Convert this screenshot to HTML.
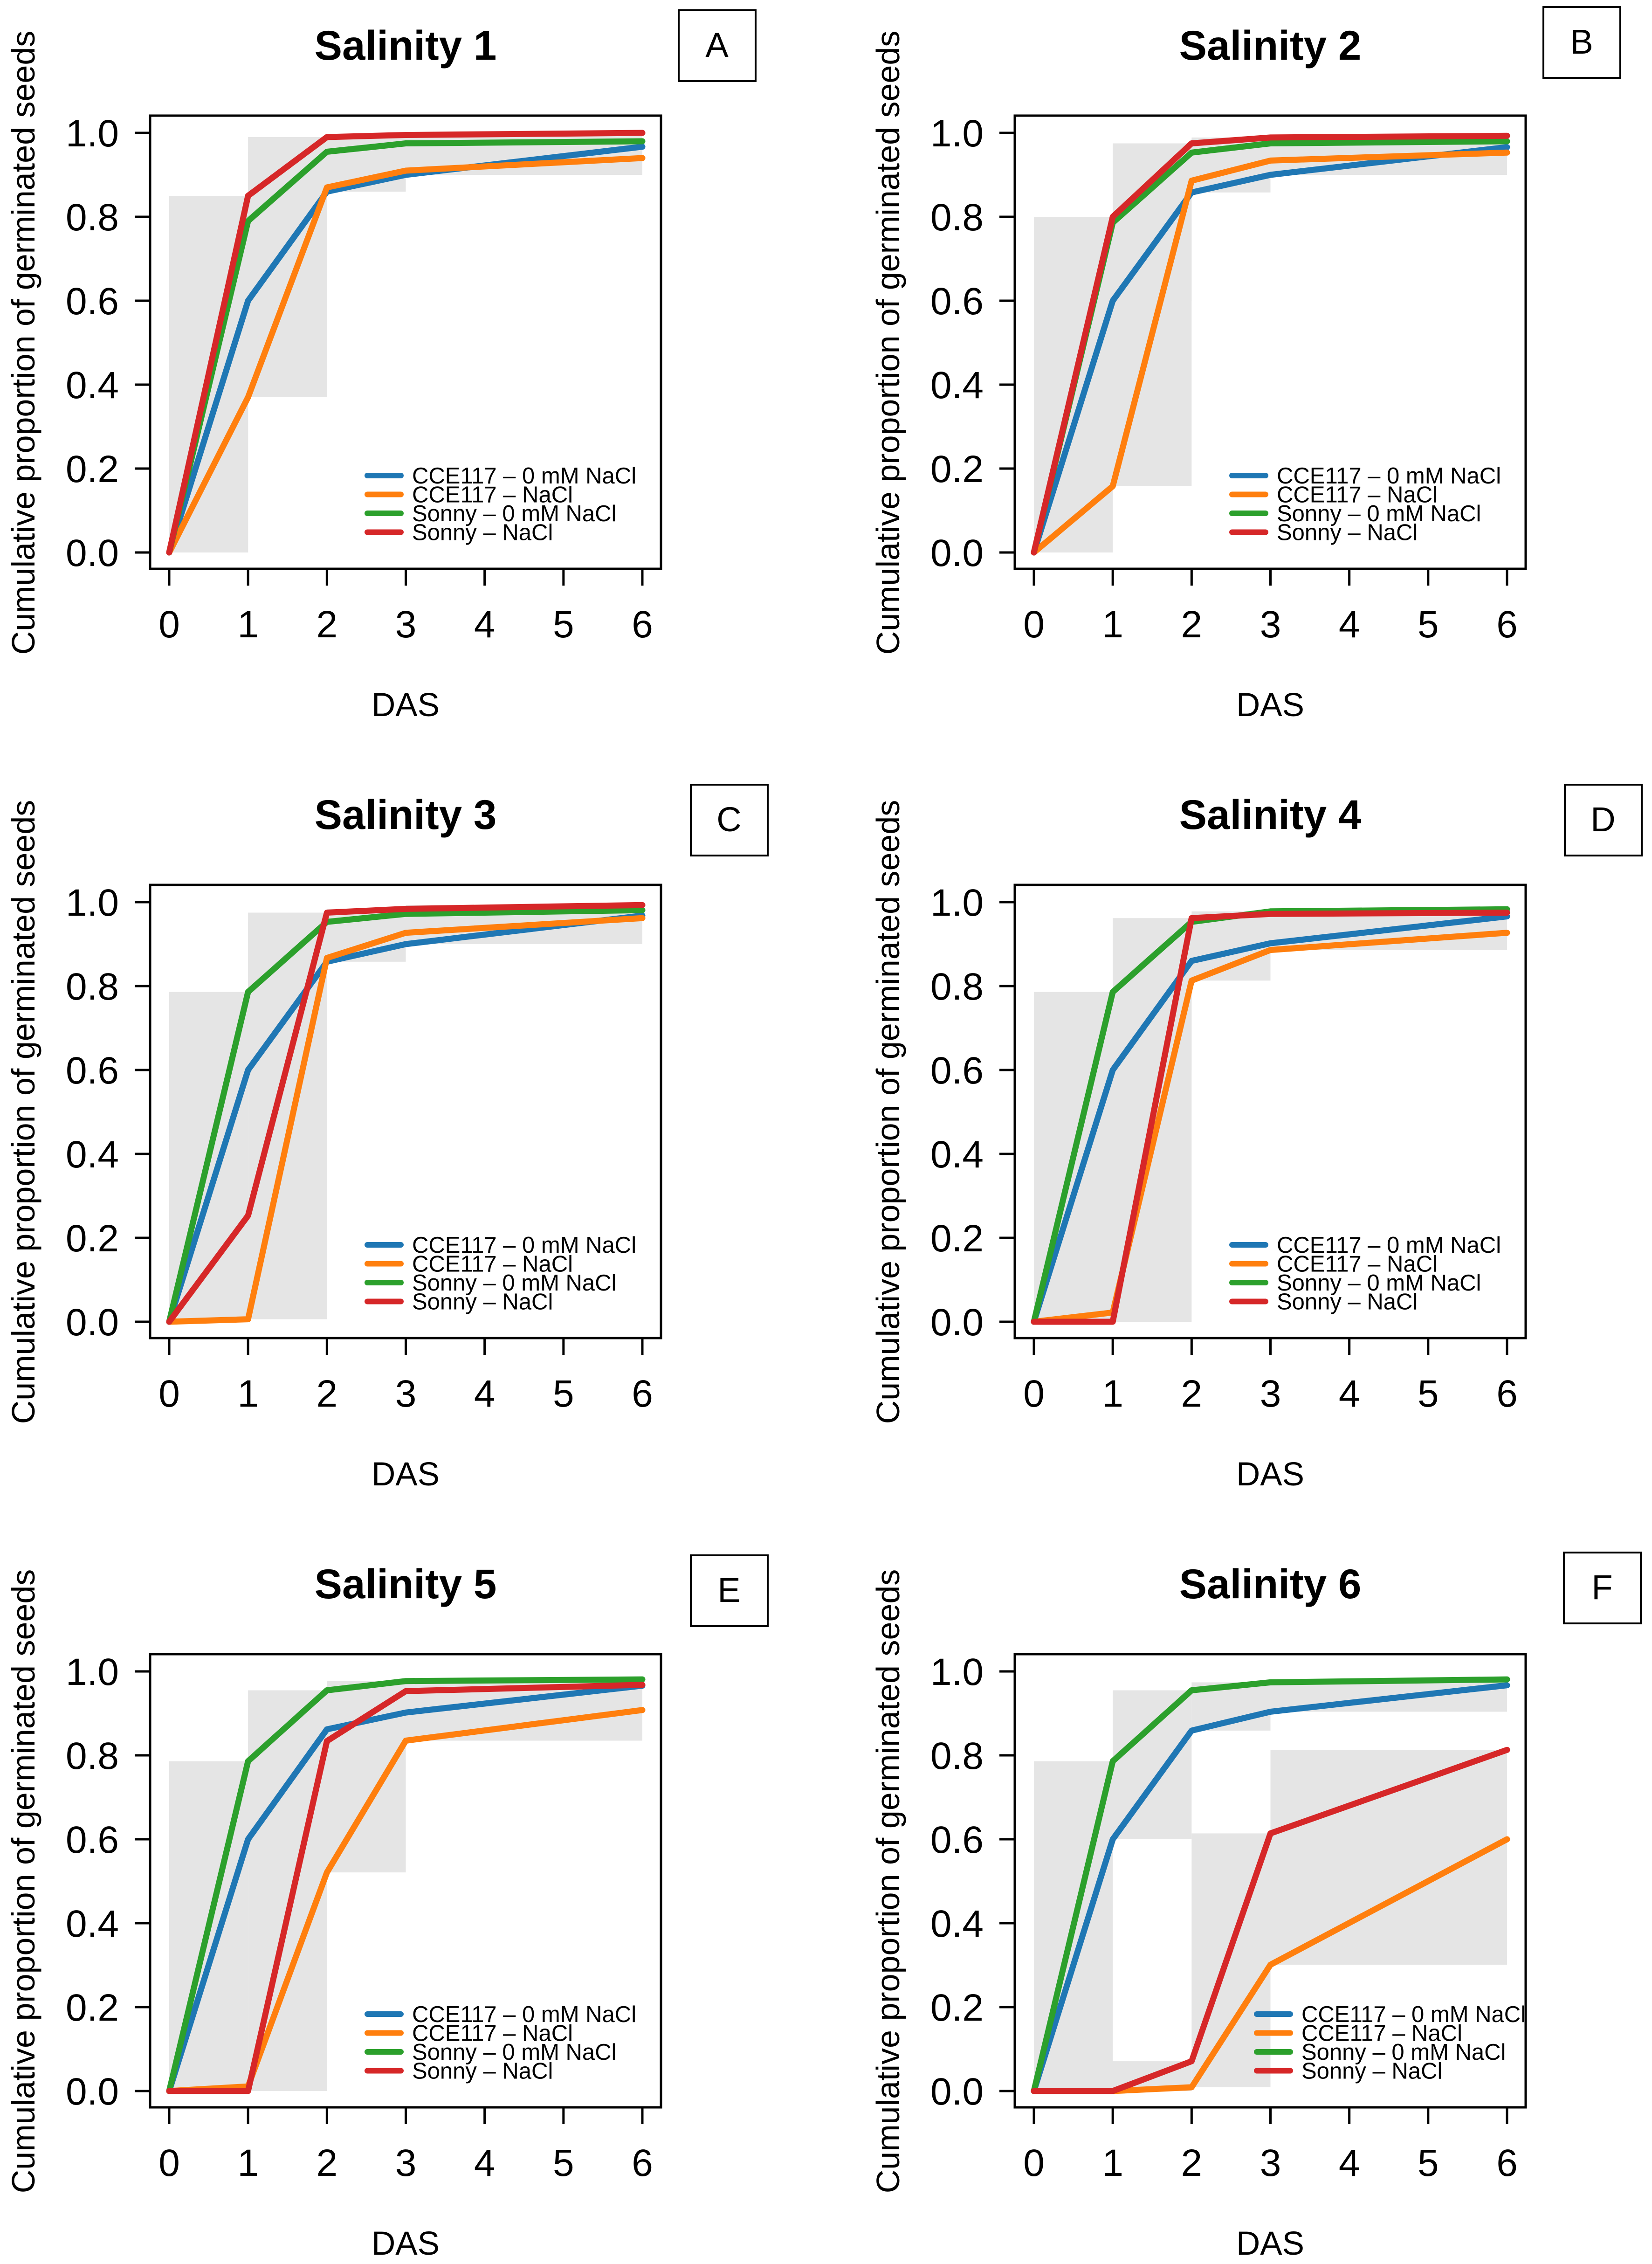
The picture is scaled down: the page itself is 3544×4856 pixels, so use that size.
<!DOCTYPE html>
<html><head><meta charset="utf-8">
<style>
html,body{margin:0;padding:0;background:#fff;}
svg{display:block;}
text{font-family:"Liberation Sans",Arial,sans-serif;fill:#000;}
</style></head>
<body>
<svg id="fig" width="3544" height="4856" viewBox="0 0 3544 4856" xmlns="http://www.w3.org/2000/svg">
<rect x="0" y="0" width="3544" height="4856" fill="#fff"/>
</svg>
<script>
// ---- data ----
const days = [0, 1, 2, 3, 6];
const seriesNames = ["CCE117 – 0 mM NaCl", "CCE117 – NaCl", "Sonny – 0 mM NaCl", "Sonny – NaCl"];
const seriesColors = ["#1f77b4", "#ff7f0e", "#2ca02c", "#d62728"];
const panelTitles = ["Salinity 1", "Salinity 2", "Salinity 3", "Salinity 4", "Salinity 5", "Salinity 6"];
const panelLetters = ["A", "B", "C", "D", "E", "F"];
const xTicks = [0, 1, 2, 3, 4, 5, 6];
const yTicks = [0, 0.2, 0.4, 0.6, 0.8, 1.0];
const yTickLabels = ["0.0", "0.2", "0.4", "0.6", "0.8", "1.0"];
// values per panel: [blue, orange, green, red]
const salinity1 = [[0,0.60,0.86,0.90,0.967],[0,0.37,0.87,0.91,0.94],[0,0.79,0.955,0.975,0.98],[0,0.85,0.99,0.995,1.0]];
const salinity2 = [[0,0.60,0.858,0.90,0.966],[0,0.158,0.886,0.934,0.953],[0,0.786,0.953,0.975,0.98],[0,0.80,0.975,0.989,0.993]];
const salinity3 = [[0,0.60,0.858,0.90,0.968],[0,0.006,0.867,0.927,0.962],[0,0.786,0.953,0.972,0.981],[0,0.253,0.975,0.984,0.993]];
const salinity4 = [[0,0.60,0.86,0.902,0.966],[0,0.022,0.813,0.886,0.927],[0,0.786,0.953,0.978,0.983],[0,0,0.962,0.972,0.975]];
const salinity5 = [[0,0.60,0.862,0.902,0.966],[0,0.011,0.521,0.835,0.908],[0,0.786,0.955,0.977,0.981],[0,0,0.834,0.953,0.968]];
const salinity6 = [[0,0.60,0.859,0.904,0.967],[0,0,0.009,0.301,0.60],[0,0.786,0.955,0.974,0.981],[0,0,0.071,0.614,0.813]];
const panelData = [salinity1, salinity2, salinity3, salinity4, salinity5, salinity6];
// groups for grey range bands: 0 mM (blue, green) and NaCl (orange, red)
const groups = [[0, 2], [1, 3]];

// ---- layout ----
const NS = "http://www.w3.org/2000/svg";
const svg = document.getElementById("fig");
const colDX = [0, 1855];
const rowDY = [0, 1650, 3300];
const letterBoxes = [[1456,22],[3311,15],[1482,1683],[3357,1683],[1482,3336],[3355,3330]];
const X0 = 363, XSTEP = (1378 - 363) / 6, Y0 = 1185, YSPAN = 900;

function mk(tag, attrs, parent) {
  const e = document.createElementNS(NS, tag);
  for (const k in attrs) e.setAttribute(k, attrs[k]);
  (parent || svg).appendChild(e);
  return e;
}

panelData.forEach((data, p) => {
  const dx = colDX[p % 2], dy = rowDY[Math.floor(p / 2)];
  const xs = v => dx + X0 + v * XSTEP;
  const ys = v => dy + Y0 - v * YSPAN;
  const g = mk("g", {});
  
  

  groups.forEach(grp => {
    for (let i = 0; i < days.length - 1; i++) {
      const lo = Math.min(...grp.map(s => data[s][i]));
      const hi = Math.max(...grp.map(s => data[s][i + 1]));
      if (hi - lo <= 0) continue;
      const r = mk("rect", {x: xs(days[i]), y: ys(hi), width: xs(days[i + 1]) - xs(days[i]), height: ys(lo) - ys(hi), fill: "#e5e5e5"}, g);
      
      
    }
  });

  data.forEach((vals, s) => {
    const pts = vals.map((v, i) => xs(days[i]) + "," + ys(v)).join(" ");
    const pl = mk("polyline", {points: pts, fill: "none", stroke: seriesColors[s], "stroke-width": 13, "stroke-linejoin": "round", "stroke-linecap": "round"}, g);
    
    
  });

  const fr = mk("rect", {x: dx + 322, y: dy + 248, width: 1096, height: 972, fill: "none", stroke: "#000", "stroke-width": 5}, g);
  
  

  yTicks.forEach((t, i) => {
    const tk = mk("line", {x1: dx + 322, x2: dx + 289, y1: ys(t), y2: ys(t), stroke: "#000", "stroke-width": 5}, g);
    
    
    const lb = mk("text", {x: dx + 255, y: ys(t) + 29, "font-size": 82, "text-anchor": "end"}, g);
    lb.textContent = yTickLabels[i];
    
    
  });
  xTicks.forEach(t => {
    const tk = mk("line", {x1: xs(t), x2: xs(t), y1: dy + 1220, y2: dy + 1256, stroke: "#000", "stroke-width": 5}, g);
    
    
    const lb = mk("text", {x: xs(t), y: dy + 1367, "font-size": 82, "text-anchor": "middle"}, g);
    lb.textContent = String(t);
    
    
  });

  const tt = mk("text", {x: dx + 870, y: dy + 128, "font-size": 89, "font-weight": "bold", "text-anchor": "middle"}, g);
  tt.textContent = panelTitles[p];
  
  

  const xt = mk("text", {x: dx + 870, y: dy + 1536, "font-size": 71, "text-anchor": "middle"}, g);
  xt.textContent = "DAS";
  
  
  const yt = mk("text", {x: 0, y: 0, "font-size": 70, "text-anchor": "middle", transform: "translate(" + (dx + 74) + "," + (dy + 735) + ") rotate(-90)"}, g);
  yt.textContent = "Cumulative proportion of germinated seeds";
  
  

  const lbx = letterBoxes[p];
  const bx = mk("rect", {x: lbx[0], y: lbx[1], width: 165, height: 152, fill: "#fff", stroke: "#000", "stroke-width": 4}, g);
  
  
  const lt = mk("text", {x: lbx[0] + 82, y: lbx[1] + 100, "font-size": 74, "text-anchor": "middle"}, g);
  lt.textContent = panelLetters[p];
  
  

  const lgx = dx + (p === 5 ? 841 : 788);
  const lg = mk("g", {}, g);
  
  
  seriesNames.forEach((nm, s) => {
    const yy = dy + Y0 - 165 + s * 40.5;
    const ll = mk("line", {x1: lgx, x2: lgx + 72, y1: yy, y2: yy, stroke: seriesColors[s], "stroke-width": 12, "stroke-linecap": "round"}, lg);
    
    
    const tx = mk("text", {x: lgx + 96, y: yy + 17, "font-size": 49}, lg);
    tx.textContent = nm;
    
    
  });
});
</script>
</body></html>
